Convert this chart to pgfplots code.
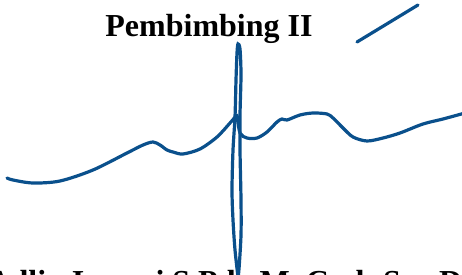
\documentclass[border=0pt]{standalone}
\usepackage{fontspec}
\setmainfont{Liberation Serif}
\usepackage{pgfplots}
\pgfplotsset{compat=1.18}
\definecolor{ink}{RGB}{10,80,140}
\begin{document}
\begin{tikzpicture}
\useasboundingbox (0,0) rectangle (462pt,275pt);
\clip (0,0) rectangle (462pt,275pt);
\begin{axis}[
  at={(0,0)}, anchor=south west,
  scale only axis, width=462pt, height=275pt,
  xmin=0, xmax=462, ymin=0, ymax=275,
  hide axis, clip=false,
]
% left part of the signature
\addplot[ink, line width=3.2pt, smooth, tension=0.5, line cap=round] coordinates {
(7,97) (13,95) (33,92) (60,94) (93,105) (127,122) (143,130) (153,133) (160,130)
(167,125) (173,123) (183,121) (200,126) (217,138) (230,152) (236,159)};
% right part of the signature
\addplot[ink, line width=3.2pt, smooth, tension=0.5, line cap=round] coordinates {
(237,160) (240,142) (247,137) (257,137) (267,143) (277,153) (282,156) (287,155)
(300,160) (313,162) (327,161) (333,157) (343,147) (353,138) (367,134) (383,137)
(400,142) (423,151) (443,156) (465,162)};
% vertical loop
\addplot[ink, line width=3.2pt, smooth, tension=0.5, line cap=round] coordinates {
(238,-2) (235,25) (233,55) (232,85) (233,125) (235,158) (236,195) (237,222)
(238,231) (240,226) (241,200) (240,160) (240,125) (241,75) (241,40) (239,6) (238,-2)};
% top stroke
\addplot[ink, line width=3.2pt, smooth, line cap=round] coordinates {
(357,233) (390,253) (418,270)};
\node[font=\bfseries\fontsize{32}{36}\selectfont, anchor=base] at (axis cs:209,238) {Pembimbing II};
\node[font=\bfseries\fontsize{32}{36}\selectfont, anchor=base west] at (axis cs:-16,-17) {Adlin Irwani S.Pd., M. Cnd. Sc., Dr};
\end{axis}
\end{tikzpicture}
\end{document}
